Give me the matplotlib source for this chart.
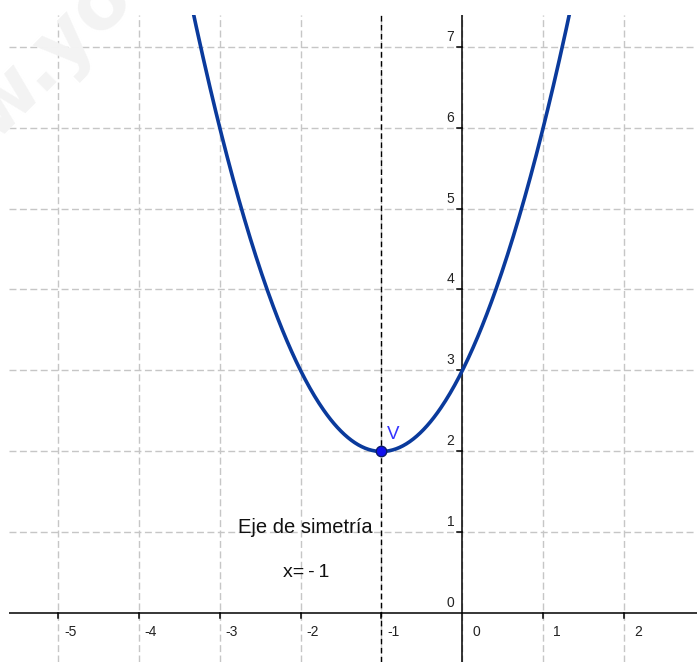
"""Parabola y = x^2 + 2x + 3 with its vertex and axis of symmetry (GeoGebra style)."""
import numpy as np
import matplotlib
matplotlib.use("Agg")
import matplotlib.pyplot as plt
from matplotlib.transforms import offset_copy

# curve coefficients: y = a x^2 + b x + c
a, b, c = 1.0, 2.0, 3.0
vertex = (-1.0, 2.0)
x_ticks = [-5, -4, -3, -2, -1, 0, 1, 2]
y_ticks = [0, 1, 2, 3, 4, 5, 6, 7]
x_labels = ["-5", "-4", "-3", "-2", "-1", "0", "1", "2"]
y_labels = ["0", "1", "2", "3", "4", "5", "6", "7"]
xlim = (-5.605, 2.901)
ylim = (-0.599, 7.389)

W, H = 697, 662
fig = plt.figure(figsize=(W / 100, H / 100), dpi=100)
ax = fig.add_axes([9 / W, 0, (W - 9) / W, (H - 15) / H])
ax.set_xlim(*xlim)
ax.set_ylim(*ylim)

# faint watermark
fig.text(0.072, 0.915, "w.yo", rotation=45, fontsize=56, fontweight="bold",
         color="#f3f3f3", ha="center", va="center", zorder=0,
         family="DejaVu Sans")
ax.patch.set_alpha(0)

# grid
for xt in x_ticks:
    ax.axvline(xt, color="#c6c6c6", lw=1.0, dashes=(5, 2.5), zorder=1)
for yt in y_ticks[1:]:
    ax.axhline(yt, color="#c6c6c6", lw=1.0, dashes=(5, 2.5), zorder=1)

# axes
ax.axhline(0, color="black", lw=1.1, zorder=2)
ax.axvline(0, color="black", lw=1.1, zorder=2)
for s in ax.spines.values():
    s.set_visible(False)
ax.set_xticks([])
ax.set_yticks([])

# tick marks
px = (xlim[1] - xlim[0]) / (W - 9)
for xt in x_ticks:
    if xt != 0:
        ax.plot([xt, xt], [0, -5 * px], color="black", lw=1.1, zorder=2)
for yt in y_ticks[1:]:
    ax.plot([0, -5 * px], [yt, yt], color="black", lw=1.1, zorder=2)

fam = ["Liberation Sans", "DejaVu Sans"]
for xt, lab in zip(x_ticks, x_labels):
    dx = 10 if xt >= 0 else 6
    tr = offset_copy(ax.transData, fig=fig, x=dx, y=-12, units="dots")
    ax.text(xt, 0, lab, transform=tr, ha="left", va="top",
            fontsize=10, family=fam, color="#222222")
tr_y = offset_copy(ax.transData, fig=fig, x=-8, y=3, units="dots")
for yt, lab in zip(y_ticks, y_labels):
    ax.text(0, yt, lab, transform=tr_y, ha="right", va="bottom",
            fontsize=10, family=fam, color="#222222")

# axis of symmetry
ax.axvline(vertex[0], color="black", lw=1.0, dashes=(4, 2.5), zorder=3)

# parabola
xs = np.linspace(xlim[0], xlim[1], 600)
ax.plot(xs, a * xs ** 2 + b * xs + c, color="#0a3a9c", lw=2.6, zorder=4,
        solid_capstyle="butt")

# vertex
ax.plot(*vertex, "o", ms=7.5, mfc="#1010ee", mec="#0a1a6a", mew=1.0, zorder=5)
trv = offset_copy(ax.transData, fig=fig, x=12, y=17, units="dots")
ax.text(*vertex, "V", transform=trv, ha="center", va="center",
        fontsize=13.5, family=fam, color="#3333ff")

ax.text(-1.94, 1.056, "Eje de simetría", ha="center", va="center",
        fontsize=14.5, family=fam, color="#111111", zorder=6)
ax.text(-1.93, 0.51, "x=\u2009-\u20091", ha="center", va="center",
        fontsize=14, family=fam, color="#111111", zorder=6)

fig.savefig("out.png", dpi=100)
